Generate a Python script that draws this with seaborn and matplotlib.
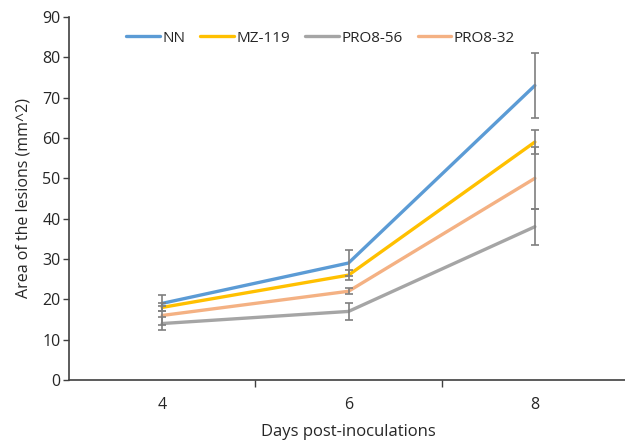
import matplotlib
matplotlib.use("Agg")
import matplotlib.pyplot as plt
import seaborn as sns
import pandas as pd

days = ["4", "6", "8"]
series = ["NN", "MZ-119", "PRO8-56", "PRO8-32"]
nn = [19, 29, 73]
mz119 = [18, 26, 59]
pro856 = [14, 17, 38]
pro832 = [16, 22, 50]
nn_err = [2.0, 3.3, 8.0]
mz119_err = [1.0, 1.3, 3.0]
pro856_err = [1.6, 2.0, 4.5]
pro832_err = [2.4, 0.7, 7.7]

colors = ["#5B9BD5", "#FFC000", "#A5A5A5", "#F4B183"]

rows = []
for name, vals, errs in zip(series, [nn, mz119, pro856, pro832],
                            [nn_err, mz119_err, pro856_err, pro832_err]):
    for d, v, e in zip(days, vals, errs):
        rows.append({"day": d, "area": v, "err": e, "series": name})
df = pd.DataFrame(rows)

sns.set_style("white")
plt.rcParams["font.family"] = ["Open Sans", "DejaVu Sans"]

fig = plt.figure(figsize=(6.25, 4.4), dpi=100)
ax = fig.add_axes([69 / 625, 60 / 440, 559 / 625, 363 / 440])

sns.lineplot(data=df, x="day", y="area", hue="series", hue_order=series,
             palette=colors, linewidth=2.4, ax=ax, sort=False, zorder=2)

# error bars in grey, on top of the lines
for name in series:
    sub = df[df["series"] == name]
    ax.errorbar(sub["day"], sub["area"], yerr=sub["err"], fmt="none",
                ecolor="#7F7F7F", elinewidth=1.2, capsize=3.2, capthick=1.2,
                zorder=3)

ax.set_xlim(-0.5, 2.5)
ax.set_ylim(0, 90)
ax.set_yticks(range(0, 91, 10))
ax.tick_params(axis="y", which="major", direction="out", length=4,
               width=1, color="#404040", labelsize=11.5, pad=2, left=True)
ax.tick_params(axis="x", which="major", length=0, labelsize=11.5, pad=12)
ax.set_xticks([0.5, 1.5], minor=True)
ax.tick_params(axis="x", which="minor", direction="out", length=5,
               width=1, color="#404040", bottom=True)

for s in ["top", "right"]:
    ax.spines[s].set_visible(False)
for s in ["left", "bottom"]:
    ax.spines[s].set_color("#404040")
    ax.spines[s].set_linewidth(1.2)

ax.set_xlabel("Days post-inoculations", fontsize=12, labelpad=8)
ax.set_ylabel("Area of the lesions (mm^2)", fontsize=11.5, labelpad=8)

handles, labels = ax.get_legend_handles_labels()
ax.legend(handles, labels, loc="upper center", bbox_to_anchor=(0.45, 1.0),
          ncol=4, frameon=False, fontsize=11, handlelength=2.2,
          handletextpad=0.15, columnspacing=1.0)

plt.savefig("out.png", dpi=100)
plt.close()
